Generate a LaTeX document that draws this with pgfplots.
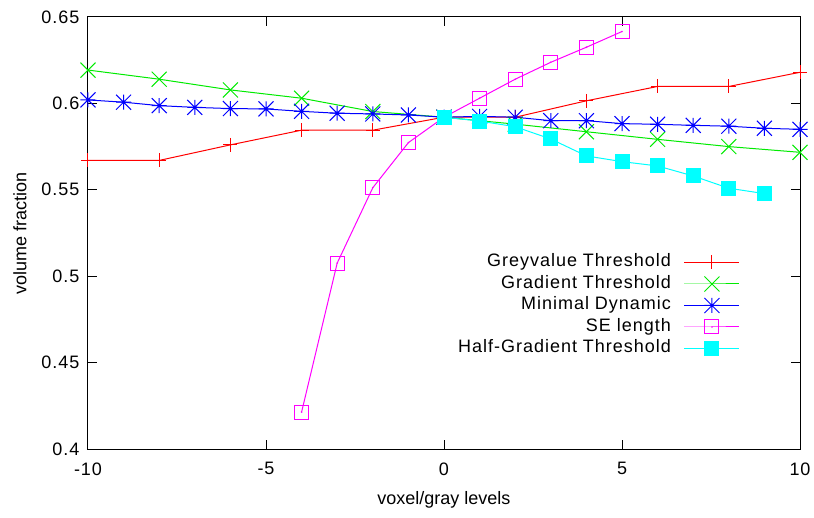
\documentclass[border=0pt]{standalone}
\usepackage{fontspec}
\setmainfont{Liberation Sans}
\newfontfamily\spaced[LetterSpace=5.5]{Liberation Sans}
\usepackage{pgfplots}
\pgfplotsset{compat=1.18}

\pgfdeclareplotmark{gx}{%
  \pgfpathmoveto{\pgfqpoint{-\pgfplotmarksize}{-\pgfplotmarksize}}%
  \pgfpathlineto{\pgfqpoint{\pgfplotmarksize}{\pgfplotmarksize}}%
  \pgfpathmoveto{\pgfqpoint{-\pgfplotmarksize}{\pgfplotmarksize}}%
  \pgfpathlineto{\pgfqpoint{\pgfplotmarksize}{-\pgfplotmarksize}}%
  \pgfusepathqstroke}
\pgfdeclareplotmark{gstar}{%
  \pgfpathmoveto{\pgfqpoint{-\pgfplotmarksize}{-\pgfplotmarksize}}%
  \pgfpathlineto{\pgfqpoint{\pgfplotmarksize}{\pgfplotmarksize}}%
  \pgfpathmoveto{\pgfqpoint{-\pgfplotmarksize}{\pgfplotmarksize}}%
  \pgfpathlineto{\pgfqpoint{\pgfplotmarksize}{-\pgfplotmarksize}}%
  \pgfpathmoveto{\pgfqpoint{-\pgfplotmarksize}{0pt}}%
  \pgfpathlineto{\pgfqpoint{\pgfplotmarksize}{0pt}}%
  \pgfpathmoveto{\pgfqpoint{0pt}{-\pgfplotmarksize}}%
  \pgfpathlineto{\pgfqpoint{0pt}{\pgfplotmarksize}}%
  \pgfusepathqstroke}
\pgfdeclareplotmark{sqdot}{%
  \pgfpathrectanglecorners{\pgfqpoint{-\pgfplotmarksize}{-\pgfplotmarksize}}{\pgfqpoint{\pgfplotmarksize}{\pgfplotmarksize}}%
  \pgfusepathqstroke
  \pgfpathcircle{\pgfpointorigin}{0.9pt}%
  \pgfusepathqfill}

\definecolor{gpred}{RGB}{255,0,0}
\definecolor{gpgreen}{RGB}{0,235,0}
\definecolor{gpblue}{RGB}{0,0,255}
\definecolor{gpmag}{RGB}{255,0,255}
\definecolor{gpcyan}{RGB}{0,255,255}

\begin{document}
\begin{tikzpicture}
\path[use as bounding box] (-88pt,-68pt) rectangle (726pt,449pt);
\begin{axis}[
  at={(0,0)}, anchor=south west,
  scale only axis, width=712pt, height=432pt,
  xmin=-10, xmax=10, ymin=0.4, ymax=0.65,
  xtick={-10,-5,0,5,10},
  ytick={0.4,0.45,0.5,0.55,0.6,0.65},
  tick align=inside, major tick length=9pt,
  tick style={black, line width=1pt},
  axis line style={black, line width=1pt},
  /pgf/number format/assume math mode=true,
  ticklabel style={font=\spaced\fontsize{18}{20}\selectfont},
  xticklabel style={yshift=-10pt},
  yticklabel style={xshift=-5pt},
  xlabel={voxel/gray levels}, ylabel={volume fraction},
  label style={font=\fontsize{18}{20}\selectfont},
  x label style={at={(axis description cs:0.5,-0.118)}, anchor=center},
  y label style={at={(axis description cs:-0.0955,0.5)}, anchor=center},
  clip=false,
  legend cell align=right, legend plot pos=right,
  legend style={draw=none, fill=none,
    at={(axis description cs:0.9157,0.4514)}, anchor=north east,
    inner sep=0pt, outer sep=0pt, row sep=4.5pt, column sep=13pt,
    nodes={font=\spaced\fontsize{18}{20}\selectfont, inner sep=0pt, text height=13pt, text depth=4pt}},
  legend image code/.code={\draw[mark repeat=2,mark phase=2,#1] plot coordinates {(0pt,0pt)(27.5pt,0pt)(55pt,0pt)};},
  every axis plot/.append style={line width=1pt},
]
\addplot[color=gpred, mark=+, mark size=7pt] coordinates {
(-10,0.567)(-8,0.567)(-6,0.576)(-4,0.5845)(-2,0.5845)(0,0.592)(2,0.592)(4,0.6015)(6,0.6098)(8,0.6098)(10,0.618)};
\addlegendentry{Greyvalue Threshold}
\addplot[color=gpgreen, mark=gx, mark size=7.5pt] coordinates {
(-10,0.6193)(-8,0.614)(-6,0.6078)(-4,0.603)(-2,0.5953)(0,0.592)(2,0.588)(4,0.5836)(6,0.5792)(8,0.575)(10,0.5717)};
\addlegendentry{Gradient Threshold}
\addplot[color=gpblue, mark=gstar, mark size=7.5pt] coordinates {
(-10,0.602)(-9,0.6007)(-8,0.5987)(-7,0.5977)(-6,0.597)(-5,0.5968)(-4,0.5954)(-3,0.5943)(-2,0.5939)(-1,0.5933)(0,0.592)
(1,0.5925)(2,0.592)(3,0.590)(4,0.590)(5,0.5883)(6,0.5879)(7,0.5873)(8,0.5868)(9,0.5856)(10,0.585)};
\addlegendentry{Minimal Dynamic}
\addplot[color=gpmag, mark=sqdot, mark size=7pt, mark options={draw=gpmag, fill=gpmag}] coordinates {
(-4,0.4214)(-3,0.5076)(-2,0.5512)(-1,0.5773)(0,0.592)(1,0.603)(2,0.614)(3,0.6238)(4,0.6325)(5,0.6416)};
\addlegendentry{SE length}
\addplot[color=gpcyan, mark=square*, mark size=7pt, mark options={fill=gpcyan}] coordinates {
(0,0.592)(1,0.5898)(2,0.5865)(3,0.5794)(4,0.5696)(5,0.5663)(6,0.5638)(7,0.558)(8,0.5509)(9,0.5478)};
\addlegendentry{Half-Gradient Threshold}
\end{axis}
\end{tikzpicture}
\end{document}
